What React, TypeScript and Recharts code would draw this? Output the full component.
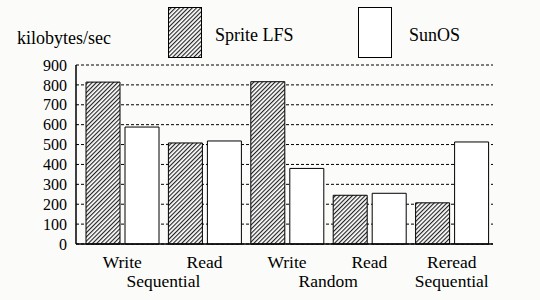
import React from 'react';
import { BarChart, Bar, XAxis, YAxis, CartesianGrid, Legend } from 'recharts';

const categories = ['Write', 'Read', 'Write', 'Read', 'Reread'];
const spriteLfs = [814, 508, 816, 245, 207];
const sunOs = [588, 518, 380, 255, 513];
const yTicks = [0, 100, 200, 300, 400, 500, 600, 700, 800, 900];
// second row of x labels, spanning categories from..to
const groupLabels = [
  { label: 'Sequential', from: 0, to: 1 },
  { label: 'Random', from: 2, to: 3 },
  { label: 'Sequential', from: 4, to: 4 },
];

const data = categories.map((name, i) => ({ name, lfs: spriteLfs[i], sun: sunOs[i] }));

const FONT = '"Liberation Serif", "DejaVu Serif", serif';
const W = 540;
const H = 300;
const M = { top: 65, right: 47, bottom: 0, left: 0 };
const Y_W = 76;
const X_H = 56;
const PAD_L = 5;
const band = (W - M.left - M.right - Y_W - PAD_L) / categories.length;

const CategoryTick = (props: any) => {
  const { x, y, payload, index } = props;
  const group = groupLabels.find((g) => g.from === index);
  return (
    <g>
      <text x={x} y={y + 22} textAnchor="middle" fontFamily={FONT} fontSize={17.5} fill="#000">
        {payload.value}
      </text>
      {group && (
        <text
          x={x + ((group.to - group.from) * band) / 2}
          y={y + 41}
          textAnchor="middle"
          fontFamily={FONT}
          fontSize={17.5}
          fill="#000"
        >
          {group.label}
        </text>
      )}
    </g>
  );
};

const LegendBox = () => (
  <svg width={W} height={62} style={{ display: 'block' }}>
    <rect x={168.5} y={7.5} width={33} height={50} fill="url(#hatch)" stroke="#000" strokeWidth={1} />
    <text x={215} y={41} fontFamily={FONT} fontSize={18} fill="#000">Sprite LFS</text>
    <rect x={358.5} y={7.5} width={33} height={50} fill="#fff" stroke="#000" strokeWidth={1} />
    <text x={409} y={41} fontFamily={FONT} fontSize={18} fill="#000">SunOS</text>
  </svg>
);

const UnitLabel = (props: any) => {
  const { viewBox } = props;
  return (
    <text x={17} y={viewBox.y - 21} fontFamily={FONT} fontSize={18} fill="#000">
      kilobytes/sec
    </text>
  );
};

export default function App() {
  return (
    <div style={{ position: 'absolute', top: 0, left: 0, width: W, height: H, background: '#fbfcf9' }}>
      <svg width={0} height={0} style={{ position: 'absolute' }}>
        <defs>
          <pattern id="hatch" width={3} height={3} patternUnits="userSpaceOnUse" patternTransform="rotate(45)">
            <rect width={3} height={3} fill="#fff" />
            <line x1={0.5} y1={0} x2={0.5} y2={3} stroke="#222" strokeWidth={1.3} />
          </pattern>
        </defs>
      </svg>
      <BarChart width={W} height={H} data={data} margin={M} barSize={34} barGap={5}>
        <CartesianGrid vertical={false} stroke="#000" strokeDasharray="3 2" />
        <XAxis
          dataKey="name"
          height={X_H}
          padding={{ left: PAD_L, right: 0 }}
          axisLine={{ stroke: '#000', strokeWidth: 1.5 }}
          tickLine={false}
          tickSize={0}
          interval={0}
          tick={<CategoryTick />}
        />
        <YAxis
          width={Y_W}
          domain={[0, 900]}
          ticks={yTicks}
          interval={0}
          axisLine={{ stroke: '#000', strokeWidth: 1.5 }}
          tickLine={false}
          tickSize={7}
          tick={{ fontFamily: FONT, fontSize: 16, fill: '#000' }}
          label={<UnitLabel />}
        />
        <Legend
          layout="vertical"
          align="center"
          verticalAlign="middle"
          wrapperStyle={{ top: 0, left: 0, width: W }}
          content={() => <LegendBox />}
        />
        <Bar dataKey="lfs" name="Sprite LFS" fill="url(#hatch)" stroke="#000" strokeWidth={1} isAnimationActive={false} />
        <Bar dataKey="sun" name="SunOS" fill="#fff" stroke="#000" strokeWidth={1} isAnimationActive={false} />
      </BarChart>
    </div>
  );
}
